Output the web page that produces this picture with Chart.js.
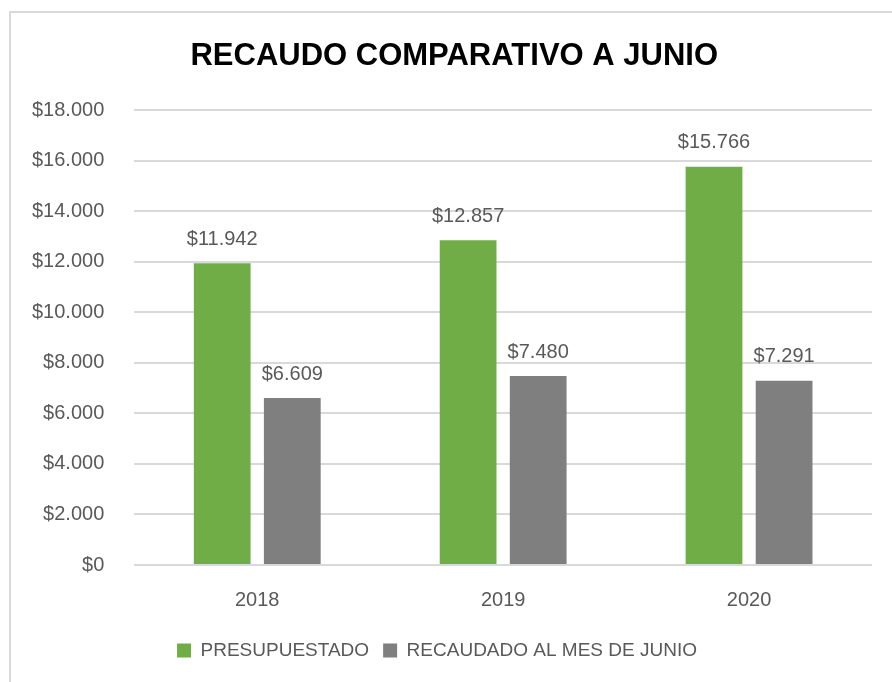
<!DOCTYPE html>
<html>
<head>
<meta charset="utf-8">
<script src="https://cdn.jsdelivr.net/npm/chart.js@4.4.1/dist/chart.umd.min.js"></script>
<style>
  html, body { margin: 0; padding: 0; background: #fff; }
  #frame {
    position: absolute; left: 9px; top: 11px; width: 900px; height: 700px;
    border-left: 2px solid #d9d9d9; border-top: 2px solid #d9d9d9;
  }
  #wrap { position: absolute; left: 0; top: 0; width: 892px; height: 682px; }
</style>
</head>
<body>
<div id="frame"></div>
<div id="wrap"><canvas id="chart"></canvas></div>
<script>
const years = ["2018", "2019", "2020"];
const presupuestado = [11942, 12857, 15766];
const recaudado = [6609, 7480, 7291];
const seriesNames = ["PRESUPUESTADO", "RECAUDADO AL MES DE JUNIO"];

const fontFamily = '"Liberation Sans", Arial, sans-serif';
const textGray = "#595959";

function money(v) {
  return "$" + String(Math.round(v)).replace(/\B(?=(\d{3})+(?!\d))/g, ".");
}

// values drawn above each bar
const valueLabels = {
  id: "valueLabels",
  afterDatasetsDraw(chart) {
    const ctx = chart.ctx;
    ctx.save();
    ctx.font = "20px " + fontFamily;
    ctx.fillStyle = textGray;
    ctx.textAlign = "center";
    ctx.textBaseline = "middle";
    chart.data.datasets.forEach((ds, i) => {
      chart.getDatasetMeta(i).data.forEach((bar, j) => {
        ctx.fillText(money(ds.data[j]), bar.x, bar.y - 24);
      });
    });
    ctx.restore();
  }
};

new Chart(document.getElementById("chart"), {
  type: "bar",
  data: {
    labels: years,
    datasets: [
      { label: seriesNames[0], data: presupuestado, backgroundColor: "#70ad47" },
      { label: seriesNames[1], data: recaudado, backgroundColor: "#7f7f7f" }
    ]
  },
  options: {
    responsive: true,
    maintainAspectRatio: false,
    animation: false,
    datasets: { bar: { categoryPercentage: 0.57, barPercentage: 0.81 } },
    layout: { padding: { top: 20, left: 2, right: 20, bottom: 12 } },
    plugins: {
      title: {
        display: true,
        // leading spaces nudge the title right, as in the original
        text: "    RECAUDO COMPARATIVO A JUNIO",
        color: "#000",
        font: { family: fontFamily, size: 31, weight: "bold" },
        padding: { top: 18, bottom: 35 }
      },
      legend: {
        position: "bottom",
        labels: {
          color: textGray,
          font: { family: fontFamily, size: 19 },
          boxWidth: 14,
          boxHeight: 14,
          padding: 14
        }
      },
      tooltip: { enabled: false }
    },
    scales: {
      x: {
        grid: { display: false },
        border: { display: false },
        ticks: { color: textGray, font: { family: fontFamily, size: 20 }, padding: 15 }
      },
      y: {
        min: 0,
        max: 18000,
        border: { display: false },
        grid: { color: "#d9d9d9", lineWidth: 2, drawTicks: false },
        ticks: {
          stepSize: 2000,
          color: textGray,
          font: { family: fontFamily, size: 20 },
          padding: 30,
          callback: v => money(v)
        }
      }
    }
  },
  plugins: [valueLabels]
});
</script>
</body>
</html>
